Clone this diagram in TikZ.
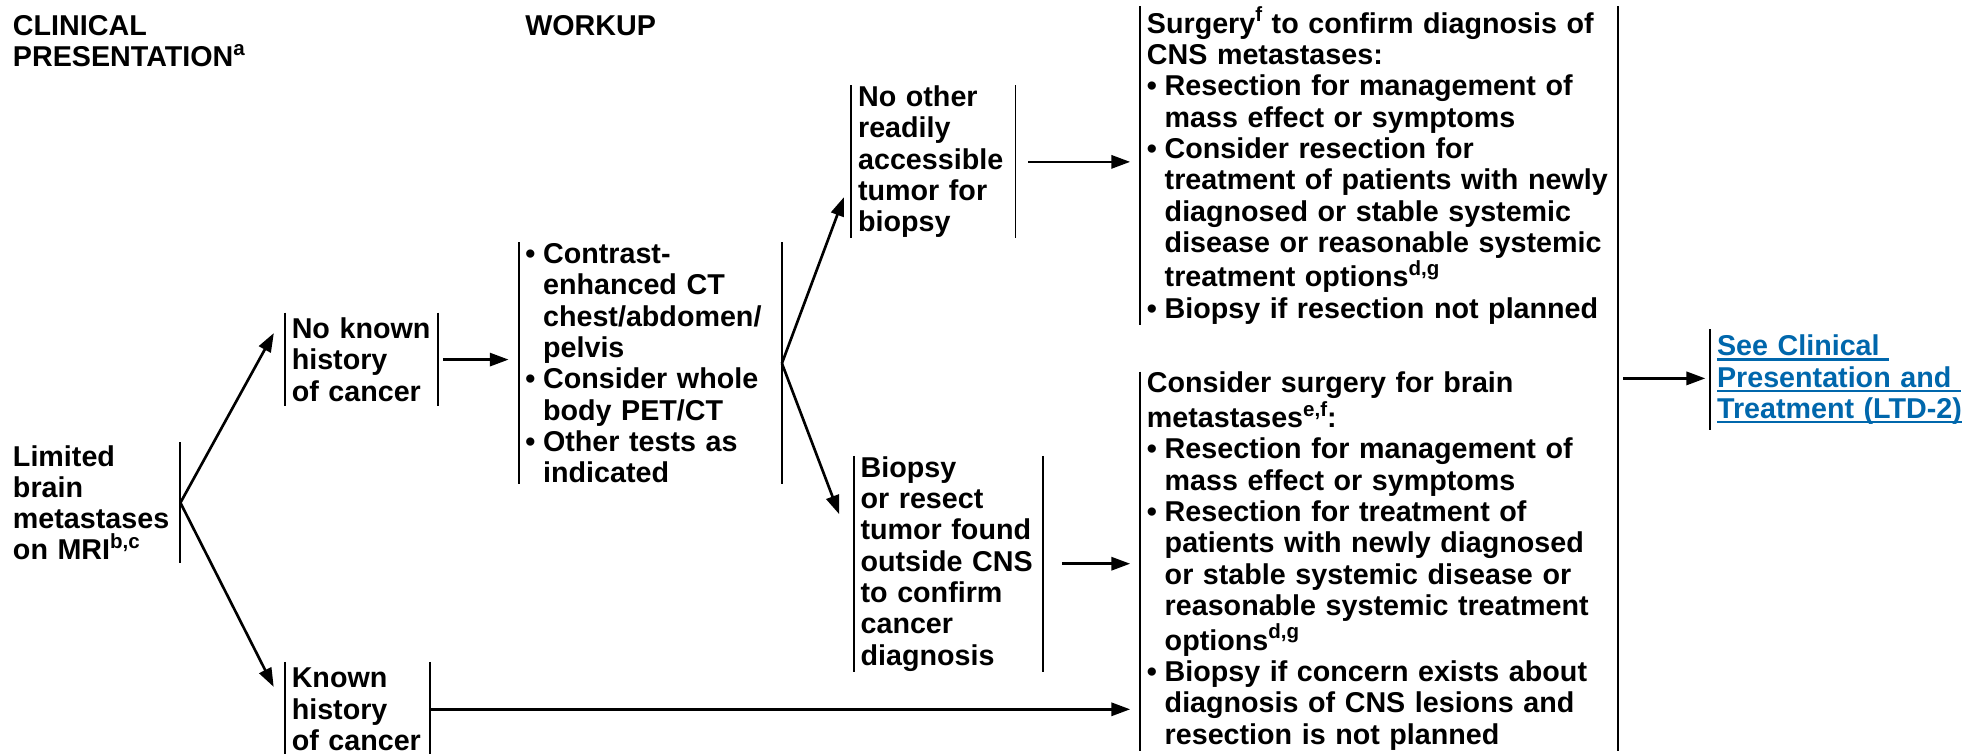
\documentclass[tikz,border=0pt]{standalone}
\usepackage{fontspec}
\setmainfont{Liberation Sans}
\usepackage{xcolor}
\usepackage{tikz}
\usetikzlibrary{arrows.meta,calc}

\definecolor{linkblue}{RGB}{0,103,172}
\setlength{\parindent}{0pt}
\newcommand{\bul}{\hangindent=0.62em\hangafter=1\leavevmode\makebox[0.62em][l]{•}}
\newcommand{\sups}[1]{\raisebox{0.4em}{\fontsize{9.3}{9.3}\selectfont #1}}
\newcommand{\lnk}[1]{\leavevmode\setbox0=\hbox{#1}\rlap{\rule[-2.2pt]{\wd0}{1pt}}\box0}

\begin{document}
\begin{tikzpicture}[x=0.02cm, y=-0.02cm]
			\tikzstyle{txt} = [font=\fontsize{13}{14.2}\selectfont\bfseries, inner xsep=0.1cm, inner ysep=0pt, align=left, anchor=north west]
			\tikzstyle{bar} = [line width=0.9pt]
			\tikzset{edge/.style = {line width=1.2pt, -{Triangle[length=3mm, width=2.1mm]}}}
			
			\useasboundingbox (0,0) rectangle (1568,600);
			
			\node[txt](headcp) at (5,12) {CLINICAL\\PRESENTATION\sups{a}};
			\node[txt](headwk) at (413,12) {WORKUP};
			
			\node[txt, text width=2.56cm, minimum height=1.92cm](lim) at (5,352) {Limited\\brain\\metastases\\on MRI\sups{b,c}};
			\node[txt, text width=2.22cm, minimum height=1.48cm](nokn) at (227,249) {No known\\history\\of cancer};
			\node[txt, text width=2.1cm, minimum height=1.5cm](known) at (227,527) {Known\\history\\of cancer};
			\draw[bar](lim.north east) -- (lim.south east);
			\draw[bar](nokn.north west) -- (nokn.south west) (nokn.north east) -- (nokn.south east);
			\draw[bar](known.north west) -- (known.south west) (known.north east) -- (known.south east);
			
			\node[txt, text width=3.98cm, minimum height=3.84cm](work) at (413,193) {\bul Contrast-\newline enhanced CT\newline chest/abdomen/\newline pelvis\\\bul Consider whole\newline body PET/CT\\\bul Other tests as\newline indicated\par};
			\draw[bar](work.north west) -- (work.south west) (work.north east) -- (work.south east);
			
			\node[txt, text width=2.4cm, minimum height=2.34cm](noth) at (678,68) {No other\\readily\\accessible\\tumor for\\biopsy};
			\node[txt, text width=2.8cm, minimum height=3.4cm](bio) at (680,363) {Biopsy\\or resect\\tumor found\\outside CNS\\to confirm\\cancer\\diagnosis};
			\draw[bar](noth.north west) -- (noth.south west) (noth.north east) -- (noth.south east);
			\draw[bar](bio.north west) -- (bio.south west) (bio.north east) -- (bio.south east);
			
			\node[txt, text width=7.4cm, minimum height=4.9cm](surg1) at (908,5) {Surgery\sups{f} to confirm diagnosis of\\CNS metastases:\\\bul Resection for management of\newline mass effect or symptoms\\\bul Consider resection for\newline treatment of patients with newly\newline diagnosed or stable systemic\newline disease or reasonable systemic\newline treatment options\sups{d,g}\\\bul Biopsy if resection not planned\par};
			\node[txt, text width=7.4cm, minimum height=6.02cm](surg2) at (908,296) {Consider surgery for brain\\metastases\sups{e,f}:\\\bul Resection for management of\newline mass effect or symptoms\\\bul Resection for treatment of\newline patients with newly diagnosed\newline or stable systemic disease or\newline reasonable systemic treatment\newline options\sups{d,g}\\\bul Biopsy if concern exists about\newline diagnosis of CNS lesions and\newline resection is not planned\par};
			\draw[bar](surg1.north west) -- (surg1.south west);
			\draw[bar](surg2.north west) -- (surg2.south west);
			\draw[bar](surg1.north east) -- (surg2.south east);
			
			\node[txt, text=linkblue, text width=3.92cm, minimum height=1.6cm](see) at (1362,262) {\lnk{See Clinical }\\\lnk{Presentation and }\\\lnk{Treatment (LTD-2)}};
			\draw[bar](see.north west) -- (see.south west);
			
			\draw[edge, shorten >=0.37cm](lim.east) to (nokn.north west);
			\draw[edge, shorten >=0.4cm](lim.east) to (known.west);
			\draw[edge, shorten <=0.08cm, shorten >=0.16cm](nokn.east) to (nokn.east -| work.west);
			\draw[edge, shorten >=0.34cm](work.east) to ($(noth.west)!0.2!(noth.south west)$);
			\draw[edge, shorten >=0.66cm](work.east) to ($(bio.north west)!0.45!(bio.south west)$);
			\draw[edge, shorten <=0.2cm, shorten >=0.16cm](noth.east) to (noth.east -| surg1.west);
			\draw[edge, shorten <=0.3cm, shorten >=0.16cm](bio.east) to (bio.east -| surg2.west);
			\draw[edge, shorten >=0.16cm](known.east) to (known.east -| surg2.west);
			
			\coordinate (split) at ($(surg1.north east)!0.5!(surg2.south east)$);
			\draw[edge, shorten <=0.08cm, shorten >=0.08cm](split) to (split -| see.west);
			
			\end{tikzpicture}
\end{document}
